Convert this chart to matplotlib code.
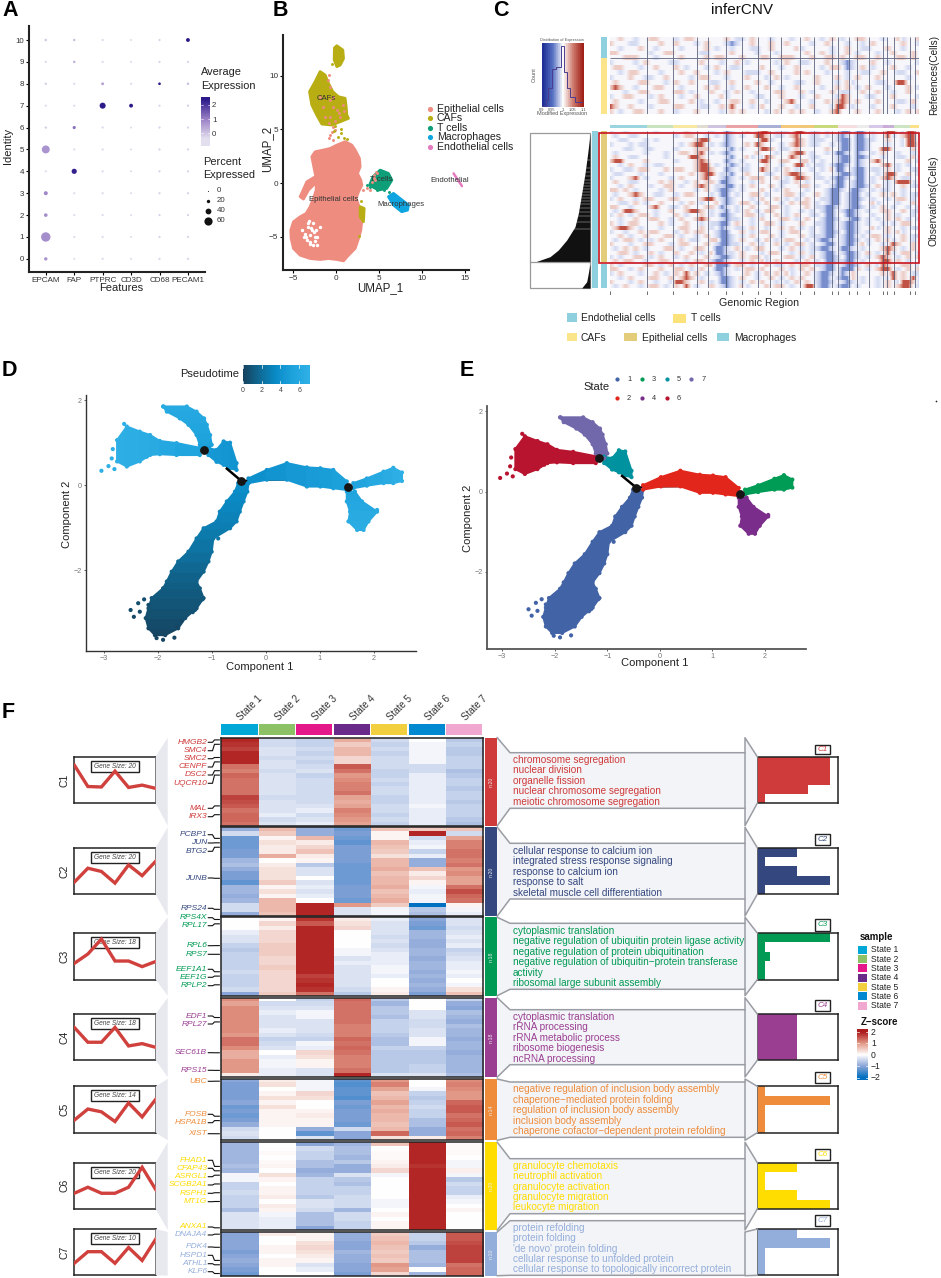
import numpy as np
import matplotlib
matplotlib.use("Agg")
import matplotlib.pyplot as plt
from matplotlib.colors import LinearSegmentedColormap, Normalize
from matplotlib.collections import PolyCollection
from matplotlib.patches import Polygon, Rectangle

plt.rcParams['font.family'] = ['Liberation Sans', 'DejaVu Sans']
W, H = 941, 1278

# ---------- Panel A data ----------
A_GENES = ['EPCAM', 'FAP', 'PTPRC', 'CD3D', 'CD68', 'PECAM1']
A_IDENT = list(range(11))
A_PCT = [  # rows identity 0..10
    [20, 8, 10, 8, 10, 10],
    [70, 9, 10, 8, 10, 10],
    [22, 9, 10, 8, 10, 10],
    [25, 9, 10, 8, 10, 10],
    [9, 35, 10, 8, 10, 10],
    [58, 9, 10, 8, 10, 10],
    [11, 18, 10, 8, 10, 10],
    [9, 9, 42, 24, 10, 10],
    [11, 9, 16, 9, 14, 12],
    [9, 12, 10, 8, 10, 10],
    [13, 12, 10, 8, 10, 24],
]
A_EXP = [
    [.7, -.3, -.3, -.3, -.2, -.2],
    [.8, -.3, -.3, -.3, -.2, -.2],
    [.8, -.3, -.3, -.3, -.2, -.2],
    [.9, -.3, -.3, -.3, -.2, -.2],
    [-.3, 2.3, -.3, -.3, -.2, -.2],
    [.7, -.3, -.3, -.3, -.2, -.2],
    [-.1, 1.2, -.3, -.3, -.2, -.2],
    [-.3, -.3, 2.4, 2.4, -.2, -.1],
    [-.1, -.3, .5, -.3, 2.4, .1],
    [-.2, .3, -.3, -.3, -.2, -.2],
    [-.1, .1, -.3, -.3, -.2, 2.4],
]

# ---------- Panel B data ----------
B_NAMES = ['Epithelial cells', 'CAFs', 'T cells', 'Macrophages', 'Endothelial cells']
B_COLORS = ['#EE8C80', '#B8AE14', '#0E9F78', '#0FA5E0', '#E57BBF']
EPI_X = [-2.84, -2.45, -1.48, -.70, .08, 1.05, 1.83, 2.22, 2.72, 2.80, 2.49, 2.88, 3.0, 2.61, 2.33, 2.61, 2.80, 3.0, 2.88, 2.61, 2.22, 1.44, .86, .08, -.89, -1.87, -3.04, -4.2, -4.98, -5.25, -5.29, -4.98, -4.2, -3.5, -3.04, -2.65, -2.33, -2.33, -2.57]
EPI_Y = [2.46, 2.92, 3.08, 3.23, 3.54, 3.86, 3.54, 3.08, 2.30, 1.52, .90, .28, -.19, -.81, -1.43, -2.05, -2.83, -3.45, -4.38, -5.16, -6.09, -6.72, -7.25, -7.12, -7.03, -7.12, -7.03, -6.72, -6.09, -5.16, -4.38, -3.61, -3.14, -2.83, -2.21, -1.43, -.65, .44, 1.37]
ARM_X = [-4.2, -3.42, -2.45, -2.26, -3.23, -3.81]
ARM_Y = [-1.27, .12, .59, .12, -.65, -1.49]
CAF1_X = [.08, .78, .86, .47, .08, -.23, -.2]
CAF1_Y = [12.8, 12.4, 11.6, 11.0, 10.85, 11.5, 12.6]
CAF2_X = [-1.87, -1.28, -.89, -.39, .27, 1.05, 1.17, 1.25, 1.44, .47, -.51, -1.67, -2.26, -2.84, -3.11, -2.45]
CAF2_Y = [10.39, 10.07, 9.29, 8.52, 8.05, 7.9, 7.12, 6.34, 6.03, 5.72, 5.41, 5.5, 6.34, 7.28, 8.52, 9.45]
CAF3_X = [2.8, 3.27, 3.19, 2.8]
CAF3_Y = [-2.2, -2.36, -3.6, -3.13]
TC_X = [5.14, 6.1, 6.5, 5.9, 4.94, 3.9, 4.3]
TC_Y = [1.21, .9, .28, -.5, -.65, -.2, .6]
MAC_X = [6.1, 6.69, 8.44, 8.33, 7.65, 6.69]
MAC_Y = [-1.27, -.96, -2.05, -2.52, -2.67, -2.05]
ENDO_X = [13.7, 14.68]
ENDO_Y = [.9, -.28]
SALMON_X = [-.89, -.7, -.31, -.7, -1.28, .47, -.31, .08, -.89, -.31, -.7, -1.87, -.7, -.31, -.89, -.5, -.12, 4.36, 4.75, 4.55, 4.16, 3.58, 3.19, 3.97, 4.7, 4.4, -1.5, -1.0, .3, .8, .9, -.1]
SALMON_Y = [10.07, 8.98, 8.05, 6.19, 6.19, 6.19, 7.12, 6.81, 5.57, 5.26, 7.74, 8.02, 4.48, 4.01, 4.17, 4.79, 4.94, .75, .9, .28, .12, -.5, -.65, -.65, 1.0, .5, 7.1, 9.6, 6.5, 7.3, 6.7, 5.8]
OLIVE_X = [.54, .86, .27, -.12, 1.25, 2.68, -.5, 2.95, -.3, .6]
OLIVE_Y = [4.63, 4.17, 4.32, 5.32, 4.07, -4.94, 11.07, -1.7, 4.9, 5.0]
TEAL_X = [3.97, 4.75, 5.53, 6.11, 4.36, 3.6, 4.9]
TEAL_Y = [-.34, -.65, -.65, -.81, -.19, -.2, -.1]
HOLE_X = [-3.23, -2.84, -3.62, -2.45, -3.04, -2.26, -2.65, -1.87, -3.42, -4.0, -3.0, -2.6, -3.3, -2.75, -2.2, -3.8, -3.1, -2.5, -2.9, -3.5, -2.35, -3.15]
HOLE_Y = [-3.76, -4.38, -4.7, -5.01, -5.47, -5.78, -3.76, -4.07, -5.32, -4.38, -4.8, -4.6, -4.1, -5.75, -5.0, -5.0, -5.7, -5.4, -4.2, -5.0, -4.4, -3.5]
B_LAB = ['CAFs', 'T cells', 'Epithelial cells', 'Macrophages', 'Endothelial']
B_LAB_X = [-1.2, 5.3, -.3, 7.6, 13.2]
B_LAB_Y = [7.9, .3, -1.55, -1.95, .2]

# ---------- Panel C data ----------
CNV_EDGES = [0, 112, 188, 261, 294, 347, 395, 445, 481, 512, 571, 613, 667, 683, 718, 742, 776, 818, 832, 853, 899, 916, 927]
BAND_EDGES = [0, 112, 188, 261, 294, 347, 445, 512, 571, 613, 683, 742, 776, 818, 832, 853, 899, 927]
BAND_COLORS = ['#9bd5e0', '#c9e3c0', '#f8e9a0', '#e0ddd0', '#cfc4e0', '#eba2a4', '#aab0d5', '#f5c87a',
               '#f0c878', '#c8d97c', '#f5dde0', '#ececec', '#d8c8e8', '#d0a8d8', '#c9b0d8', '#cce3c4', '#fbe28a']
CNV_REF = [
    "..r..b..rr...b.rr......r.bb.r...b...b..r..b.r.b..rr...b..rb..r",
    "r...bb....r..r...b.r...bBb..r...r..r....b..r...b..b.r.....r..b",
    "..b...r..b....b....r.b..b...bb..r....rb.....b..r..bb...r..b...",
    "rr......b..rr.....bb....r....b...b.....r..r.b..r.b...b..r...r.",
    "...rrr...b....r....r.rr...r...rr..rrr...r..rr.r..rr..r...rr.r.",
    "b....b.r....bb....r...b..r.b.....b.r..bb...r..bBb...r..b.....b",
    ".rr...b..r...r.b...b.r..bb....r...b..r....b.rr.Bb.r.b...r..b..",
    "..b.rr....b...r..r...b.r...bbb..r....r.r...b...b..bb..r..bb..r",
    "b...r..bb..r....b.rr...b...r...b.r.b.....r...r.b.r...r.....b..",
    ".r....rr...b.r..r...bb..r....r..b....bb..r...b.rb....bb..RR...",
    "rRr..b...rr...b....r.r..b..r...r..b..r....b..r.r.b.r...b...r.b",
    "...b..rr.....rr.b...r..b.r..b....rr...r.b...r.bb..r..r..b..r..",
    "b..rr...b.r...b..r....rb.....bb...r...b..r...bRr...bb...r....b",
    ".r....b...rr....r.b..b..rr..r..b...rR...b..r.rRr.r...r...bb.r.",
    "Rr..r...b....rr...bb..r.R...b.r...r..b..r...bRR.b...b...r...b.",
    "r.b..rr...r..b...r....b.r.r....b.r..r.r..b..rR...r...r...b.r.r",
]
CNV_OBS = [
    "b..b.....b.....r....b..Bb..r.rRR.bbb.RR.bb.b..BB.BB.b..RR.bRRb",
    ".b..bb.......b.rr..b.b.Bb.b..RRr.bb.rR..bb.b.bBb.BB.b..Rb.rRRb",
    "..bb...b.b.......rRR...Bb.....RRb....Rr.bbb..bBB.BBbb..r..bRRb",
    "b...b.bb......b.rRR.b.bBb..r.Rr...b.rRr.bb..b.BB.BBb...b..bRR.",
    "...bb..bb....b...rrr...bB.b...RRr.bb.r.....r..BB.BBb..RR....r.",
    ".b.....b...b..rr.rR.b.bBb....r...b..rRR.b..b.BBb.Bb.b.r..b..b.",
    ".r..bb.....b....RRr....bB..rb.bRr...Rr..bb...bBB.BBb..b..bb.rb",
    "rRR....r.....b...rRr...Bb.b...RR..rr..rrb.b..bBB.Bb.rR.....r.b",
    "..b.r..b.bb......rRR.b.bBb.b...r..b..RRb.bb.bBBb.Bb...rR.b.b..",
    "b..bb.rr...r.rr..rRRr..Bb.bb..Rr.b.r.b..b.b.rBB.bBB.bb.r.b..bb",
    ".bb...b...b.....r.rRR.bbB..r...bb..rRRr..b...bBBbBB..b.RR..r.b",
    "b...rR.b....b.r...rR..bBb.b.rrr..r.b.RRr.bb.bBBb.BB.b.rRr.bb..",
    ".r..bb....r.r..b.r.rr.BBb...b.r...bb.r.b...b.BB.bBB.b..b.RRRb.",
    "..b.r...b..rr.b..rRr.bbBB.b.r...r.b...rr.b..bBB.bBBb.r.b..r.bb",
    "rr.r.b....b.r....b.r.bBBb.b...r..b.r...b...bBBb.BBb.b.bb..b...",
    ".b..rRr..bb..b.rr...b.BB.b..rr.b...rr.b..r.bBB.bBB.b..r.r.b.bb",
    "b.r..b.rr...rr....rRR.bBb...b.r..r.b.b.r..bbBB.bBBb.b..b.rr.b.",
    "..bb.r.b..r...b.r.b..rbBb.rr.b.r..b.r.rr.b.bBB.bBB..rb...b..r.",
    "rr..b...rR..bb.r...rr.Bb.b..r...rr.b...r.bbBBb.bBBb.b.r.b..b.b",
    ".b.RRr...b..r..rRRr.b.bB.b.r.b.rr..b..b.b.bBB.bBBb.b..rr..r.bb",
    "b.r.b.rr.b...r.b..r.b.BBb..rr.b..r.b.r..bb.BB..BBb..b..r.b..b.",
    "..b..r..rr..b.r..rRr..bBbb..b.r...rr.b.r..bBBb.bBB.b.b.r.r.b.b",
    "r.b.rr....r.b..r..b.bbBB.r..b..rr.b...r..bbBB.bBBb.b..b.b.rr..",
    ".rRRr.b...b...rr..r.b.Bb.bb.r..b..r.r.b.b.bBB.bBBb..rb.r..b.bb",
    "b..b..r.rr...b.r.rr..bBB..r.b.rr..b.rr..b.bBBb.BBb.b...r.rb...",
    "..r.b..r...rr.b..b.r.bBBb.b.r...r.b...r.bbbBB.bBB.b.rr.b..r.bb",
    ".b.rr.b.b.r...r.bb..rrBBb.r..b.r.b.rr..b.bBBb.bBBb.b.r.rb.r.b.",
    "r...b..rr...b.rr...r.bBBbb..r.b..r.b.rr.b.bBB.bBB.rb..b.Rr..r.",
    ".b.r.r.b...rr.b..rr..BBb.r.b.rr...b.r.b.bbBBb.BBb.b...rRr.b.r.",
    "..rr.b..r.b..r..r.b.rBBbb.r...b.rr..b.r.b.bBB.bBBb.r.b.Rb.rr.b",
    "b.b..rr.b.r..b.r...r.bBBb.r.rr.b...rr.b.r.bBBb.BBb.b.rRr.b.r.r",
    ".r.rr..b..rr...b.rr.bBBb..b.r.rb.r...b.r.b.BBbbBB.b...RR.r.b..",
    "r.b....rr.b.r.b.r..rrBBB.rr.b..r.bb.r.rr.bbBB.bBBb.r.bRr..rr.b",
    "rr..b.r...r..rr.b.r..BBb.b.rr.r...r.b.r.r.bBB.BBBr.b.rRR.b.r.r",
    "b.r...b..r.b.r.R.r.b.bBb...r.b.r.r.rb..r.bBBb.Bbr.....r.R.r.bb",
    "..b.r...rr..r.rRr.b...BBb.r..b..r.b.r.r..bBB.bBBr.b..b.bR.r.Rb",
    "r...b.r..b..bRRr..r.b.BBb.b.r.r..b.b.r.r.bBBb.bBb.b..b.r.bRRrb",
    ".b.r..b.rr.b.r.R.b..r.bBb.rb...r.rr.b..RRbBB.bBB.b...b.r.rRR.b",
]
HIST_EDGES = [.9, .921, .932, .951, .969, .991, 1.007, 1.02, 1.036, 1.06, 1.1]
HIST_VALS = [.01, .1, .29, .6, .62, .96, .55, .29, .16, .08]

# ---------- Panels D/E data (ribs: position, low edge, high edge, pseudotime) ----------
STEM_Y = [-3.52, -3.36, -3.12, -2.89, -2.65, -2.42, -2.26, -2.03, -1.79, -1.56, -1.25, -1.01, -.85, -.62, -.38, -.15, .05]
STEM_L = [-2.05, -2.17, -2.22, -2.17, -2.11, -1.90, -1.83, -1.74, -1.62, -1.43, -1.28, -1.15, -.91, -.85, -.72, -.57, -.51]
STEM_R = [-1.86, -1.62, -1.49, -1.28, -1.15, -1.22, -1.28, -1.15, -1.06, -1.0, -.97, -.66, -.54, -.48, -.41, -.34, -.32]
STEM_T = [.1, .3, .5, .7, .9, 1.1, 1.3, 1.5, 1.8, 2.1, 2.4, 2.7, 2.9, 3.1, 3.3, 3.5, 3.7]
MID_X = [-.32, .02, .39, .76, 1.01, 1.25, 1.50]
MID_L = [.05, .13, .13, -.03, -.03, -.07, -.11]
MID_H = [.16, .36, .52, .42, .40, .36, .09]
MID_T = [3.7, 4.0, 4.3, 4.6, 4.8, 5.0, 5.2]
UP_X = [1.62, 1.87, 2.18, 2.36, 2.52]
UP_L = [-.07, -.01, .05, .05, .10]
UP_H = [.05, .16, .32, .41, .30]
UP_T = [5.4, 5.8, 6.3, 6.7, 7.0]
DOWN_Y = [-.15, -.38, -.62, -.85, -1.05]
DOWN_L = [1.50, 1.50, 1.56, 1.53, 1.69]
DOWN_R = [1.65, 1.78, 2.06, 1.90, 1.81]
DOWN_T = [5.4, 5.8, 6.2, 6.5, 6.8]
STUB_X = [-1.06, -.91, -.78, -.66, -.54]
STUB_L = [.71, .55, .48, .40, .36]
STUB_H = [.87, .83, 1.03, 1.0, .52]
STUB_T = [4.5, 4.4, 4.3, 4.2, 4.1]
TOP_Y = [1.85, 1.73, 1.57, 1.42, 1.18, .95, .83]
TOP_L = [-1.90, -1.83, -1.59, -1.43, -1.28, -1.22, -1.19]
TOP_R = [-1.46, -1.28, -1.14, -1.09, -1.03, -1.0, -1.06]
TOP_T = [6.2, 6.1, 5.9, 5.7, 5.4, 5.1, 5.0]
LEFT_X = [-2.75, -2.57, -2.33, -2.14, -1.96, -1.65, -1.22]
LEFT_L = [.56, .44, .56, .71, .73, .71, .71]
LEFT_H = [1.06, 1.38, 1.26, 1.18, 1.04, .99, .88]
LEFT_T = [6.8, 6.8, 6.7, 6.5, 6.2, 5.8, 5.3]
OUT_X = [-2.5, -2.44, -2.36, -2.25, -2.33, -2.17, -2.02, -1.9, -1.69, -1.56, -1.64, -1.17, -1.31, -1.35, -.88, -3.04, -2.91, -2.8, -2.85, -2.83, -2.62, -2.2, -1.89, 2.06]
OUT_Y = [-2.93, -3.09, -2.77, -2.68, -2.97, -2.81, -3.59, -3.63, -3.58, -3.19, -3.32, -2.68, -2.93, -2.98, -1.25, .34, .45, .38, .63, .85, 1.44, .67, 1.85, -.58]
OUT_T = [.4, .3, .5, .5, .4, .5, .1, .1, .1, .3, .2, .9, .7, .7, 2.5, 6.9, 6.9, 6.9, 6.9, 6.9, 6.9, 6.5, 6.3, 6.5]
OUT_S = [1] * 15 + [6] * 7 + [7, 4]
NODE_X = [-1.15, -.45, 1.52]
NODE_Y = [.83, .1, -.05]
STATE_COLORS = {1: '#4263a6', 2: '#e2261c', 3: '#009b55', 4: '#7b2d8b', 5: '#00929e', 6: '#b8142f', 7: '#7068ab'}

# ---------- Panel F data ----------
STATES = ['State 1', 'State 2', 'State 3', 'State 4', 'State 5', 'State 6', 'State 7']
STATE_F_COLORS = ['#00a8d8', '#8cc265', '#e5188a', '#6a2a8a', '#f2cf3f', '#0088d0', '#f0a8d0']
CL_NAMES = ['C1', 'C2', 'C3', 'C4', 'C5', 'C6', 'C7']
CL_COLORS = ['#cf3a3a', '#34477f', '#009a54', '#9a3e92', '#ee8c3c', '#ffdd00', '#94aedb']
CL_N = [20, 20, 18, 18, 14, 20, 10]
Z_C1 = [
 [1.9,1.8,1.7,1.9,1.9,1.9,1.3,1.2,1.4,1.3,1.3,1.3,1.3,1.7,1.6,1.5,1.3,1.4,1.4,1.3],
 [-.4,-.4,-.3,-.3,-.4,-.3,-.3,-.4,-.3,-.3,-.3,-.3,-.3,-.4,-.3,-.3,-.3,-.2,-.4,-.3],
 [-.5,-.5,-.4,-.5,-.4,-.5,-.4,-.3,-.5,-.4,-.4,-.4,-.4,-.4,-.4,-.3,-.2,-.4,-.3,-.2],
 [.8,.5,.7,.7,.4,.4,1.5,1.3,1.0,1.1,1.2,1.2,1.3,.9,.8,.9,1.2,1.1,1.0,.9],
 [-.4,-.5,-.4,-.5,-.4,-.4,-.4,-.5,-.5,-.4,-.5,-.4,-.4,-.5,-.5,-.4,-.4,-.5,-.4,-.5],
 [0,-.1,-.1,-.1,-.1,-.1,-.4,-.4,-.2,-.2,-.2,-.2,-.2,-.2,-.2,-.1,-.2,-.2,-.2,-.2],
 [-.6,-.5,-.6,-.6,-.5,-.5,-.5,-.7,-.6,-.5,-.5,-.6,-.5,-.5,-.6,-.5,-.5,-.5,-.6,-.7]]
Z_C2 = [
 [-.9,-.4,-1.2,-1.2,-1.2,-1.1,-1.1,-.8,-.7,-.9,-1.1,-1.1,-1.3,-.8,-.8,-.9,-.8,-.4,-.4,-.9],
 [.7,.5,.1,.3,.2,.2,.8,0,.2,.3,.3,.3,.5,.1,.3,.1,.7,.7,.7,.6],
 [-.9,-.9,.7,.2,.4,.6,.2,.1,-.6,-.3,-.3,0,-.3,-.2,-.3,-.2,0,1.9,1.9,1.9],
 [-1.2,-1.1,-1.2,-1.3,-1.1,-1.1,-1.1,-1.1,-1.2,-1.2,-1.2,-1.2,-1.2,-1.1,-1.1,-1.1,-1.2,1.0,-.3,-.3],
 [.6,.1,.1,.7,.6,.5,.3,.7,.7,.8,.6,.7,.7,.8,.6,.7,.8,.5,-.1,-.1],
 [.5,1.9,-.4,-.2,-.1,-.5,-.2,-.9,-.9,.6,.2,.4,.1,-.1,-.2,-.1,-.1,-2.0,-.6,-.7],
 [.6,-.4,.9,1.2,1.2,1.3,1.3,1.2,1.3,1.0,1.1,.9,.9,1.3,1.6,1.4,1.3,.1,-.1,-.2]]
Z_C3 = [
 [0,0,0,-.2,-.3,-.3,-.5,-.6,-.5,-.5,-.5,-.5,-.4,-.5,-.5,-.5,-.4,-1.0],
 [.1,.4,.2,.4,.4,.4,.5,.5,.5,.4,.4,.5,.4,.4,.4,.4,.4,.5],
 [1.8,1.5,1.9,1.9,1.9,1.9,1.9,1.9,1.9,1.9,1.9,1.9,1.9,1.7,1.8,1.9,1.8,1.3],
 [.2,.3,.4,0,0,0,0,-.1,-.1,-.3,-.2,-.3,-.3,-.3,-.3,-.3,-.4,-.6],
 [-.2,-.3,-.3,-.3,-.4,-.3,-.4,-.3,-.2,-.2,-.2,-.1,-.1,-.2,0,0,.1,.2],
 [-1.0,-1.1,-1.2,-.8,-.8,-.9,-.9,-.8,-.8,-.9,-.8,-.8,-.9,-.8,-.9,-.8,-.9,-1.1],
 [-.3,-.3,-.4,-.3,-.2,-.3,-.2,-.5,-.4,-.3,-.2,-.2,-.1,-.2,0,-.1,.3,.6]]
Z_C4 = [
 [1.1,.9,1.1,1.1,1.1,1.1,1.1,1.1,1.0,1.3,1.3,1.1,.8,.8,1.0,1.0,1.0,.2],
 [0,-.4,-.3,-.2,-.3,-.3,-.3,-.2,-.3,-.5,-.4,-.3,0,-.2,-.1,-.1,-.2,-.2],
 [-.5,-.4,-.3,-.1,-.1,-.3,-.3,-.3,-.4,-.5,-.1,-.2,.4,.3,.1,.1,-.3,-.3],
 [1.4,1.3,1.3,1.3,1.3,1.3,1.2,1.2,1.2,1.4,1.3,1.4,1.3,1.2,1.2,1.2,1.3,1.9],
 [-.6,-.8,-.6,-.6,-.7,-.5,-.5,-.5,-.6,-.7,-.7,-.5,-.6,-.6,-.6,-.6,-.6,-.3],
 [0,0,0,-.3,-.3,-.4,-.4,-.3,-.3,-.1,-.1,-.5,-.6,-.6,-.6,-.5,-.5,-.3],
 [-.5,-.9,-1.0,-.7,-.8,-.9,-.7,-.8,-.8,-.9,-.8,-.8,-.9,-.8,-.8,-.8,-.8,-.7]]
Z_C5 = [
 [-1.0,-1.1,-1.1,-1.1,-1.1,-1.0,-1.2,-1.1,-1.2,-1.1,-.9,-.4,-.3,-.4],
 [.2,.3,0,.1,.3,.1,.3,.1,.1,.1,.1,0,0,0],
 [-.1,-.1,-.1,.4,.3,0,0,.1,.2,.1,.1,-.9,-1.3,-.3],
 [-1.3,-1.4,-1.3,-1.3,-1.4,-1.1,-1.2,-1.1,-1.1,-1.1,-1.2,-.4,-1.0,-1.0],
 [1.0,1.2,.9,.6,.7,.9,.7,.8,.7,.7,.6,.7,1.4,.3],
 [0,0,-.1,-.5,-.6,-.5,-.4,-.5,-.5,-.7,-.7,-.9,-.9,.2],
 [1.1,1.2,1.1,1.0,1.0,1.4,1.5,1.5,1.3,1.4,1.5,1.3,1.4,1.2]]
Z_C6 = [
 [-.8,-.8,-.8,-.8,-.8,-.7,-.8,-.1,-.1,-.5,-.5,-.4,-.5,-.5,-.5,-.7,-.3,-.3,-.3,-.3],
 [0,0,.05,0,.05,.1,0,.3,.1,0,.1,.1,.2,0,.2,.1,-.1,-.2,-.2,-.2],
 [-1.0,-.4,-.5,-.5,-.7,-.7,-.9,-.8,-.5,-.5,-.5,-.5,-.6,-.3,-.3,-.4,-.7,-.7,-.7,-1.0],
 [-.8,-.7,-.7,-.8,-.6,-.9,-.9,-.3,-.6,-.7,-.5,-.5,-.4,-.4,-.4,-.8,-.4,-.4,-.5,-.5],
 [.6,0,.05,.05,.1,.2,.4,-.1,0,0,0,0,0,-.1,-.1,0,.1,0,.1,.1],
 [1.9,1.9,1.9,1.9,1.9,1.8,1.9,1.9,1.9,1.9,1.9,1.9,1.9,1.9,1.9,1.9,1.9,1.9,1.9,1.9],
 [.05,.05,.05,0,-.1,-.1,.15,-.1,-.6,-.4,-.5,-.5,-.2,-.1,0,.1,0,0,0,0]]
Z_C7 = [
 [-1,-1,-1,-1,-1.1,-1,-.9,-1,-1.1,-1.2],
 [.2,0,0,.1,.1,0,.1,.1,0,0],
 [.1,.1,.3,.4,.3,.2,.1,-.3,-.2,0],
 [-.9,-.9,-1,-1,-.8,-.9,-.9,-1,-1,-1.1],
 [.5,.6,.7,.6,.5,.6,.5,1.0,.9,.4],
 [-.5,-.5,-.6,-.9,-.7,-.7,-.7,-.8,0,-.8],
 [1.5,1.5,1.6,1.7,1.7,1.7,1.7,1.3,1.4,1.4]]
Z_ALL = [Z_C1, Z_C2, Z_C3, Z_C4, Z_C5, Z_C6, Z_C7]
GENE_SIZE = [20, 20, 18, 18, 14, 20, 10]
LINE_C1 = [.82, .36, .35, .69, .34, .39, .32]
LINE_C2 = [.26, .56, .49, .24, .63, .40, .71]
LINE_C3 = [.35, .55, .87, .40, .40, .28, .39]
LINE_C4 = [.71, .39, .39, .71, .31, .36, .28]
LINE_C5 = [.27, .51, .45, .24, .64, .34, .72]
LINE_C6 = [.34, .47, .34, .34, .47, .90, .42]
LINE_C7 = [.26, .51, .51, .26, .60, .32, .78]
LINES = [LINE_C1, LINE_C2, LINE_C3, LINE_C4, LINE_C5, LINE_C6, LINE_C7]
GENES = [
 ['HMGB2', 'SMC4', 'SMC2', 'CENPF', 'DSC2', 'UQCR10', 'MAL', 'IRX3'],
 ['PCBP1', 'JUN', 'BTG2', 'JUNB', 'RPS24'],
 ['RPS4X', 'RPL17', 'RPL6', 'RPS7', 'EEF1A1', 'EEF1G', 'RPLP2'],
 ['EDF1', 'RPL27', 'SEC61B', 'RPS15'],
 ['UBC', 'FOSB', 'HSPA1B', 'XIST'],
 ['FHAD1', 'CFAP43', 'ASRGL1', 'SCGB2A1', 'RSPH1', 'MT1G', 'ANXA1'],
 ['DNAJA4', 'PDK4', 'HSPD1', 'ATHL1', 'KLF6'],
]
GENE_ROWS = [[0, 1, 4, 5, 7, 8, 15, 17], [2, 3, 4, 11, 18], [0, 1, 6, 8, 12, 13, 15], [4, 5, 12, 16], [0, 8, 9, 12], [5, 6, 7, 9, 11, 13, 19], [0, 3, 6, 7, 9]]
GO_TERMS = [
 ['chromosome segregation', 'nuclear division', 'organelle fission', 'nuclear chromosome segregation', 'meiotic chromosome segregation'],
 ['cellular response to calcium ion', 'integrated stress response signaling', 'response to calcium ion', 'response to salt', 'skeletal muscle cell differentiation'],
 ['cytoplasmic translation', 'negative regulation of ubiquitin protein ligase activity', 'negative regulation of protein ubiquitination', 'negative regulation of ubiquitin\u2212protein transferase', 'activity', 'ribosomal large subunit assembly'],
 ['cytoplasmic translation', 'rRNA processing', 'rRNA metabolic process', 'ribosome biogenesis', 'ncRNA processing'],
 ['negative regulation of inclusion body assembly', 'chaperone\u2212mediated protein folding', 'regulation of inclusion body assembly', 'inclusion body assembly', 'chaperone cofactor\u2212dependent protein refolding'],
 ['granulocyte chemotaxis', 'neutrophil activation', 'granulocyte activation', 'granulocyte migration', 'leukocyte migration'],
 ['protein refolding', 'protein folding', "'de novo' protein folding", 'cellular response to unfolded protein', 'cellular response to topologically incorrect protein'],
]
GO_BARS = [
 [1, 1, 1, .7, .1], [.55, .1, .55, 1, .1], [1, .1, .18, .1, .1], [.55, .55, .55, .55, .55],
 [.1, 1, .1, .1, .1], [.55, .1, .1, .55, 1], [.55, 1, .1, .1, .1],
]

# ---------- Layout (pixels) ----------
fig = plt.figure(figsize=(W / 100, H / 100), dpi=100, facecolor='white')

def pax(x0, y0, x1, y1, **kw):
    return fig.add_axes([x0 / W, 1 - y1 / H, (x1 - x0) / W, (y1 - y0) / H], **kw)

ov = fig.add_axes([0, 0, 1, 1], zorder=10)
ov.set_xlim(0, W); ov.set_ylim(H, 0); ov.axis('off'); ov.patch.set_alpha(0)

def T(x, y, s, size=7.7, ha='left', va='center', color='#222222', **kw):
    return ov.text(x, y, s, fontsize=size, ha=ha, va=va, color=color, **kw)

for lab, x, y in [('A', 2, 10), ('B', 273, 10), ('C', 493, 10), ('D', 2, 370), ('E', 460, 370), ('F', 2, 712)]:
    T(x, y, lab, size=15.5, weight='bold', color='black')

def clean(ax, lw=1.5, col='#222222'):
    for s in ['top', 'right']:
        ax.spines[s].set_visible(False)
    for s in ['left', 'bottom']:
        ax.spines[s].set_linewidth(lw)
        ax.spines[s].set_color(col)

def rs(r):  # radius in px to scatter size
    return (1.44 * r) ** 2

# ---------- A ----------
dot_cmap = LinearSegmentedColormap.from_list('d', ['#e3dfee', '#9a80c6', '#2c1a8a'])
ax = pax(29, 26, 205, 272)
clean(ax)
ax.set_xlim(-.59, 5.6); ax.set_ylim(-.6, 10.64)
pct = np.array(A_PCT, float); exp_ = np.array(A_EXP, float)
xx, yy = np.meshgrid(range(6), A_IDENT)
ax.scatter(xx.ravel(), yy.ravel(), s=rs(.5 + .06 * pct.ravel()), c=exp_.ravel(), cmap=dot_cmap, vmin=-.4, vmax=2.4, linewidths=0)
ax.set_xticks(range(6), A_GENES, fontsize=5.9, color='#333333')
ax.set_yticks(A_IDENT, [str(i) for i in A_IDENT], fontsize=5.7, color='#333333')
ax.tick_params(length=2, width=.8, pad=1.5)
T(121, 288, 'Features', size=8, ha='center')
T(8.3, 145.7, 'Identity', size=8, ha='center', rotation=90)
T(201, 72, 'Average', size=7.9); T(201, 86, 'Expression', size=7.9)
T(203, 162, 'Percent', size=7.9); T(203, 175.5, 'Expressed', size=7.9)
cb = pax(201, 97, 210, 146)
cb.imshow(np.linspace(2.55, -.9, 64)[:, None], aspect='auto', cmap=dot_cmap, vmin=-.4, vmax=2.4, extent=[0, 1, -.9, 2.55])
cb.set_xticks([]); cb.set_yticks([0, 1, 2]); cb.yaxis.tick_right()
cb.tick_params(length=0, labelsize=5.7, pad=1.5, labelcolor='#333333')
for s in cb.spines.values():
    s.set_visible(False)
for v in [0, 1, 2]:
    cb.plot([0, .2], [v, v], color='white', lw=.4); cb.plot([.8, 1], [v, v], color='white', lw=.4)
cb.set_xlim(0, 1); cb.set_ylim(-.9, 2.55)
for p, y in zip([0, 20, 40, 60], [191, 201, 211, 220.5]):
    ov.scatter([208.5], [y], s=rs(.5 + .06 * p), color='#111111', linewidths=0)
    T(217, y, str(p), size=5.7, color='#333333')

# ---------- B ----------
ax = pax(283, 35, 469, 270)
clean(ax)
ax.set_xlim(-6.2, 15.5); ax.set_ylim(-8.1, 13.8)
def blob(xs, ys, c):
    ax.add_patch(Polygon(np.c_[xs, ys], closed=True, fc=c, ec=c, lw=2, joinstyle='round'))
blob(EPI_X, EPI_Y, B_COLORS[0]); blob(ARM_X, ARM_Y, B_COLORS[0])
blob(CAF1_X, CAF1_Y, B_COLORS[1]); blob(CAF2_X, CAF2_Y, B_COLORS[1]); blob(CAF3_X, CAF3_Y, B_COLORS[1])
blob(TC_X, TC_Y, B_COLORS[2]); blob(MAC_X, MAC_Y, B_COLORS[3])
ax.plot(ENDO_X, ENDO_Y, color=B_COLORS[4], lw=1.8, solid_capstyle='round')
ax.scatter(HOLE_X, HOLE_Y, s=6, color='white', linewidths=0)
ax.scatter(SALMON_X, SALMON_Y, s=4.5, color=B_COLORS[0], linewidths=0)
ax.scatter(OLIVE_X, OLIVE_Y, s=4.5, color=B_COLORS[1], linewidths=0)
ax.scatter(TEAL_X, TEAL_Y, s=4.5, color=B_COLORS[2], linewidths=0)
for s, x, y in zip(B_LAB, B_LAB_X, B_LAB_Y):
    ax.text(x, y, s, fontsize=5.6, color='#333333', ha='center', va='center')
ax.set_xticks([-5, 0, 5, 10, 15], ['\u22125', '0', '5', '10', '15'], fontsize=5.9, color='#333333')
ax.set_yticks([-5, 0, 5, 10], ['\u22125', '0', '5', '10'], fontsize=5.9, color='#333333')
ax.tick_params(length=2, width=.8, pad=1.5)
T(380, 288, 'UMAP_1', size=8.3, ha='center')
T(267, 149, 'UMAP_2', size=8.3, ha='center', rotation=90)
for i, (n, c) in enumerate(zip(B_NAMES, B_COLORS)):
    y = 109 + i * 9.4
    ov.scatter([430], [y], s=rs(2.6), color=c, linewidths=0)
    T(437, y, n, size=7.6)

# ---------- C ----------
cnv_cmap = LinearSegmentedColormap.from_list('c', ['#2a4aa8', '#b9c5ea', '#f7f7fc', '#e8b4a8', '#b0281c'])
CH = {'B': -.72, 'b': -.28, '.': 0, 'r': .32, 'R': .85}
def cnv_mat(rows):
    return np.array([[CH[c] for c in r.ljust(62, '.')[:62]] for r in rows])
def cnv_axes(y0, y1, rows):
    a = pax(610, y0, 919, y1)
    m = cnv_mat(rows)
    # smooth only along the genome so the rows stay as horizontal streaks
    xf = np.linspace(0, m.shape[1] - 1, 310)
    fine = np.array([np.interp(xf, np.arange(m.shape[1]), r) for r in m])
    a.imshow(fine, aspect='auto', cmap=cnv_cmap, vmin=-1, vmax=1, extent=[0, 927, 1, 0], interpolation='nearest')
    a.vlines(CNV_EDGES[1:-1], 0, 1, color='#4d5570', lw=.55)
    a.axis('off')
    return a
ra = cnv_axes(36.7, 114, CNV_REF)
ra.hlines(.27, 0, 927, color='#5d6580', lw=.6)
oa = cnv_axes(130.7, 288, CNV_OBS)
T(741.7, 10, 'inferCNV', size=11, ha='center', color='#111111')
band = pax(610, 124.7, 919, 128)
for i, c in enumerate(BAND_COLORS):
    band.axvspan(BAND_EDGES[i], BAND_EDGES[i + 1], color=c, lw=0)
band.set_xlim(0, 927); band.axis('off')
tk = pax(610, 291, 919, 295)
tk.vlines(CNV_EDGES[:-1], 0, 1, color='#555555', lw=.6); tk.set_xlim(0, 927); tk.set_ylim(0, 1); tk.axis('off')
for (x0, x1, y0, y1, c) in [(600.7, 606.7, 36.7, 58, '#8fd0de'), (600.7, 606.7, 58, 114, '#fbe48a'),
                            (591.7, 598, 130.7, 288, '#8fd0de'), (600.7, 606.7, 130.7, 261.7, '#e3cd7a'),
                            (600.7, 606.7, 263.5, 288, '#8fd0de')]:
    ov.add_patch(Rectangle((x0, y0), x1 - x0, y1 - y0, fc=c, ec='none'))
ov.add_patch(Rectangle((598.7, 133.3), 320.3, 130, fc='none', ec='#c8141e', lw=1.2))
# dendrogram
ov.add_patch(Rectangle((530, 132.7), 60, 155.3, fc='white', ec='#999999', lw=.9))
ov.plot([530, 590], [261.7, 261.7], color='#999999', lw=.9)
DEN_Y1 = [261.7, 256.7, 250, 240, 226.7, 213.3, 193.3, 173.3, 153.3, 140, 133.3]
DEN_X1 = [535.7, 550, 558.3, 566.7, 575, 578.3, 581.7, 585, 587.7, 589.3, 590]
DEN_Y2 = [288, 281.7, 273.3, 265]
DEN_X2 = [581.7, 586.7, 588.3, 589.7]
ov.fill_betweenx(DEN_Y1, DEN_X1, 590, color='#111111', lw=0)
ov.fill_betweenx(DEN_Y2, DEN_X2, 590, color='#111111', lw=0)
for y in [160, 168, 172, 176, 180, 183, 186, 189, 192, 195, 198, 201, 204, 208, 212, 216, 222, 229]:
    ov.plot([560, 590], [y, y], color='white', lw=.35, alpha=.7)
# colour key
ck = pax(541.7, 43.3, 583.3, 106.7)
key_cmap = LinearSegmentedColormap.from_list('k', ['#1f2f96', '#5a74c4', '#ffffff', '#cf7d70', '#a02018'], N=21)
ck.imshow(np.linspace(0, 1, 21)[None, :], aspect='auto', cmap=key_cmap, extent=[.9, 1.1, 0, 1])
ck.stairs(HIST_VALS, HIST_EDGES, color='#4a3d8f', lw=.7)
ck.set_xlim(.9, 1.1); ck.set_ylim(0, 1); ck.set_xticks([]); ck.set_yticks([])
for s in ck.spines.values():
    s.set_visible(False)
for lab, v in zip(['0.9', '0.95', '1', '1.05', '1.1'], [.9, .95, 1, 1.05, 1.1]):
    T(541.7 + (v - .9) / .2 * 41.6, 110, lab, size=2.8, ha='center', color='#444444')
T(562, 40, 'Distribution of Expression', size=2.8, ha='center', color='#555555')
T(562, 114, 'Modified Expression', size=4, ha='center', color='#555555')
T(534.5, 75, 'Count', size=4, ha='center', rotation=90, color='#555555')
T(759, 302.7, 'Genomic Region', size=7.7, ha='center')
T(934, 75, 'References(Cells)', size=7.2, ha='center', rotation=90)
T(934, 201, 'Observations(Cells)', size=7.4, ha='center', rotation=90)
for (x0, x1, y0, y1, c, tx, ty, s) in [
    (566.7, 577.3, 313, 321.7, '#8fd0de', 580.7, 318.3, 'Endothelial cells'),
    (673, 686, 314, 322.7, '#fbe27a', 691, 318.3, 'T cells'),
    (566.7, 577.3, 333, 341, '#fbe58a', 580.7, 337.6, 'CAFs'),
    (624, 636.7, 333, 341, '#e3cd7a', 642, 337.6, 'Epithelial cells'),
    (717, 729, 333, 341, '#8fd0de', 734, 337.6, 'Macrophages')]:
    ov.add_patch(Rectangle((x0, y0), x1 - x0, y1 - y0, fc=c, ec='none'))
    T(tx, ty, s, size=7.4)

# ---------- D / E ----------
pt_cmap = LinearSegmentedColormap.from_list('p', ['#16425e', '#0f6b96', '#0a8cc8', '#1fa3dd', '#2fb0e6'])
pt_norm = Normalize(0, 7.05)
RIBS = [('y', STEM_Y, STEM_L, STEM_R, STEM_T, 1), ('x', MID_X, MID_L, MID_H, MID_T, 2),
        ('x', UP_X, UP_L, UP_H, UP_T, 3), ('y', DOWN_Y, DOWN_L, DOWN_R, DOWN_T, 4),
        ('x', STUB_X, STUB_L, STUB_H, STUB_T, 5), ('x', LEFT_X, LEFT_L, LEFT_H, LEFT_T, 6),
        ('y', TOP_Y, TOP_L, TOP_R, TOP_T, 7)]

def traj(ax, by_state):
    ax.plot([-.72, NODE_X[1]], [.39, NODE_Y[1]], color='black', lw=1.8, zorder=4)
    ax.plot([NODE_X[1], 0, .7, NODE_X[2]], [NODE_Y[1], .13, .14, NODE_Y[2]], color='black', lw=1.6, zorder=1)
    for kind, pos, lo, hi, t, st in RIBS:
        quads, cols = [], []
        for i in range(len(pos) - 1):
            if kind == 'y':
                q = [(lo[i], pos[i]), (hi[i], pos[i]), (hi[i + 1], pos[i + 1]), (lo[i + 1], pos[i + 1])]
            else:
                q = [(pos[i], lo[i]), (pos[i], hi[i]), (pos[i + 1], hi[i + 1]), (pos[i + 1], lo[i + 1])]
            quads.append(q)
            cols.append(STATE_COLORS[st] if by_state else pt_cmap(pt_norm((t[i] + t[i + 1]) / 2)))
        ax.add_collection(PolyCollection(quads, facecolors=cols, edgecolors=cols, linewidths=1.5, zorder=2))
        if kind == 'y':
            ex = list(lo) + list(hi); ey = list(pos) * 2
        else:
            ex = list(pos) * 2; ey = list(lo) + list(hi)
        ec = [STATE_COLORS[st]] * len(ex) if by_state else [pt_cmap(pt_norm(v)) for v in list(t) * 2]
        ax.scatter(ex, ey, s=9, c=ec, linewidths=0, zorder=3)
    oc = [STATE_COLORS[s] for s in OUT_S] if by_state else [pt_cmap(pt_norm(v)) for v in OUT_T]
    ax.scatter(OUT_X, OUT_Y, s=9, c=oc, linewidths=0, zorder=3)
    ax.scatter(NODE_X, NODE_Y, s=rs(4.4), color='#161616', linewidths=0, zorder=5)
    ax.set_xticks([-3, -2, -1, 0, 1, 2], ['\u22123', '\u22122', '\u22121', '0', '1', '2'], fontsize=5.2, color='#777777')
    ax.set_yticks([-2, 0, 2], ['\u22122', '0', '2'], fontsize=5.2, color='#777777')
    ax.tick_params(length=1.5, width=.6, pad=1.5, color='#444444')

ad = pax(86.3, 395, 416, 651.3)
clean(ad, lw=1, col='#333333')
ad.set_xlim(-3.32, 2.78); ad.set_ylim(-3.9, 2.12)
traj(ad, False)
T(260, 666.7, 'Component 1', size=8, ha='center')
T(66.7, 514, 'Component 2', size=8, ha='center', rotation=90)
T(239, 373.7, 'Pseudotime', size=8, ha='right')
pc = pax(243, 365, 309.3, 384.3)
pc.imshow(np.linspace(0, 7.1, 128)[None, :], aspect='auto', cmap=pt_cmap, norm=pt_norm, extent=[0, 7.1, 0, 1])
for v in [0, 2, 4, 6]:
    pc.plot([v, v], [0, .18], color='white', lw=.5); pc.plot([v, v], [.82, 1], color='white', lw=.5)
pc.set_xlim(0, 7.1); pc.set_ylim(0, 1); pc.axis('off')
for v in [0, 2, 4, 6]:
    T(243 + v * 9.35, 391, str(v), size=5, ha='center', color='#444444')

ae = pax(487, 405.7, 806, 649)
clean(ae, lw=1.3, col='#555555')
ae.set_xlim(-3.29, 2.78); ae.set_ylim(-3.92, 2.14)
traj(ae, True)
T(655, 663, 'Component 1', size=8, ha='center')
T(468, 518, 'Component 2', size=8, ha='center', rotation=90)
T(596.7, 386.7, 'State', size=8, ha='center')
LEG = [(1, 617, 379.3), (3, 642, 379.3), (5, 666.7, 379.3), (7, 691.3, 379.3), (2, 617, 398.3), (4, 642, 398.3), (6, 666.7, 398.3)]
for s, x, y in LEG:
    ov.scatter([x], [y], s=rs(2.1), color=STATE_COLORS[s], linewidths=0)
    T(x + 12, y, str(s), size=5.3, ha='center', color='#333333')
ov.scatter([936], [401], s=1.5, color='#222222', linewidths=0)

# ---------- F ----------
zc = LinearSegmentedColormap.from_list('z', [(0, '#0070c0'), (.25, '#8aa5d8'), (.5, '#ffffff'), (.75, '#e39a88'), (1, '#ad1c1c')])
BLK = [(737.7, 825.7), (827.3, 916), (917.3, 995.7), (997.7, 1077), (1079, 1140.3), (1142.3, 1230), (1232, 1275.7)]
BOX = [(756.7, 803.3), (847.7, 894.3), (933, 979.7), (1014, 1060.3), (1086.3, 1132.7), (1162.7, 1209), (1229, 1275.3)]
BODY = [(752.7, 808.3), (843.3, 899), (923.3, 989.3), (1009.7, 1064.7), (1082, 1137.3), (1158.7, 1213.7), (1220.7, 1275.3)]
GO_Y0 = [760, 851, 931, 1017, 1089.3, 1165.7, 1227.7]
LABBOX = [(745.3, 754), (834, 845), (919.3, 930.7), (1000, 1011.3), (1072, 1083), (1148.7, 1160), (1215, 1226.3)]
GENE_Y = [
 [742.3, 750.7, 758.7, 767, 775, 783.3, 808.3, 816.7],
 [834.7, 843, 851.3, 878, 908.3],
 [917.7, 925.7, 945.7, 954.3, 969.3, 977.3, 985.7],
 [1016, 1024, 1052.7, 1070.3],
 [1081.3, 1114.3, 1122.7, 1133.7],
 [1160.3, 1168.3, 1176.7, 1185, 1193.3, 1201.7, 1227],
 [1235, 1247, 1255.3, 1263.7, 1271.7],
]
HX = [(221.3, 257.7), (259, 295), (296.3, 332.3), (334, 370), (371.3, 407.3), (408.7, 445), (446.3, 482.3)]
for i, ((x0, x1), c, s) in enumerate(zip(HX, STATE_F_COLORS, STATES)):
    ov.add_patch(Rectangle((x0, 724.3), x1 - x0, 10.7, fc=c, ec='none'))
    T(250 + i * 37.5, 708, s, size=7, ha='center', rotation=45, color='#333333')

GRAY = '#9a9da4'
for i in range(7):
    y0, y1 = BLK[i]; by0, by1 = BOX[i]; c = CL_COLORS[i]
    # wedge left
    ov.add_patch(Polygon([(155.7, by0), (167.7, y0), (167.7, y1), (155.7, by1)], fc='#e8e9ef', ec='none'))
    # heat
    a = pax(220.7, y0, 483.3, y1)
    a.imshow(np.array(Z_ALL[i]).T, aspect='auto', cmap=zc, vmin=-2, vmax=2, interpolation='nearest')
    a.set_xticks([]); a.set_yticks([])
    for s in a.spines.values():
        s.set_linewidth(1.1); s.set_color('#222222')
    # annotation bar
    ov.add_patch(Rectangle((485.3, y0), 12, y1 - y0, fc=c, ec='none'))
    T(491.3, (y0 + y1) / 2, 'n:%d' % CL_N[i], size=3.8, ha='center', rotation=90, color='#eeeeee')
    # line panel
    l = pax(74.3, by0, 155.7, by1)
    l.set_xlim(0, 6); l.set_ylim(0, 1); l.set_xticks([]); l.set_yticks([])
    for s in l.spines.values():
        s.set_linewidth(1.1); s.set_color('#222222')
    l.add_patch(Rectangle((.205, .678), .595, .236, transform=l.transAxes, fc='white', ec='#222222', lw=1, zorder=2))
    l.text(.5, .796, 'Gene Size: %d' % GENE_SIZE[i], transform=l.transAxes, fontsize=4.8, style='italic', color='#444444', ha='center', va='center', zorder=3)
    l.plot(range(7), LINES[i], color='#d0403c', lw=2.4, zorder=4, solid_joinstyle='miter')
    T(64, (by0 + by1) / 2, CL_NAMES[i], size=7.5, ha='center', rotation=90)
    # gene labels + links
    rowh = (y1 - y0) / CL_N[i]
    for g, r, gy in zip(GENES[i], GENE_ROWS[i], GENE_Y[i]):
        T(207.3, gy, g, size=6, ha='right', style='italic', color=c)
        ty = y0 + (r + .5) * rowh
        ov.plot([208.3, 212.5, 214.5, 219.3], [gy, gy, ty, ty], color='#111111', lw=.8)
    # GO arrow
    b0, b1 = BODY[i]
    poly = [(497.3, y0), (510, b0), (745, b0), (745, y0), (757.3, by0), (757.3, by1), (745, y1), (745, b1), (510, b1), (497.3, y1)]
    ov.add_patch(Polygon(poly, fc='#f3f4f7', ec='none'))
    for seg in [[(497.3, y0), (510, b0), (745, b0)], [(497.3, y1), (510, b1), (745, b1)],
                [(757.3, by0), (745, y0), (745, y1), (757.3, by1)]]:
        sx, sy = zip(*seg)
        ov.plot(sx, sy, color=GRAY, lw=1.1)
    for j, term in enumerate(GO_TERMS[i]):
        T(512.7, GO_Y0[i] + j * 10.4, term, size=7.2, color=c)
    # GO bars
    g = pax(757.3, by0, 838.3, by1)
    g.barh(range(5), GO_BARS[i], height=1.0, color=c, linewidth=0)
    g.set_xlim(0, 1.11); g.set_ylim(4.5, -.5); g.set_xticks([]); g.set_yticks([])
    for s in g.spines.values():
        s.set_linewidth(1.1); s.set_color('#222222')
    ly0, ly1 = LABBOX[i]
    ov.add_patch(Rectangle((814.7, ly0), 15, ly1 - ly0, fc='white', ec='#222222', lw=1))
    T(822.2, (ly0 + ly1) / 2, CL_NAMES[i], size=5.8, ha='center', style='italic', color=c)

T(859.3, 937.3, 'sample', size=7, weight='bold', color='#111111')
for i, (s, c) in enumerate(zip(STATES, STATE_F_COLORS)):
    y = 949.7 + i * 9.33
    ov.add_patch(Rectangle((858.3, y - 3.9), 8.4, 7.8, fc=c, ec='none'))
    T(871, y, s, size=6.2, color='#222222')
T(861, 1022.3, 'Z\u2212score', size=7, weight='bold', color='#111111')
zb = pax(857.3, 1029.3, 868.3, 1080)
zb.imshow(np.linspace(2.24, -2.2, 128)[:, None], aspect='auto', cmap=zc, vmin=-2, vmax=2, extent=[0, 1, -2.2, 2.24])
for v in [-2, -1, 0, 1, 2]:
    zb.plot([0, .2], [v, v], color='white', lw=.5); zb.plot([.8, 1], [v, v], color='white', lw=.5)
zb.set_xlim(0, 1); zb.set_ylim(-2.2, 2.24); zb.axis('off')
for v, lab in zip([2, 1, 0, -1, -2], ['2', '1', '0', '\u22121', '\u22122']):
    T(871, 1055 - v * 11.4, lab, size=6.2, color='#222222')

fig.savefig('out.png', dpi=100)
